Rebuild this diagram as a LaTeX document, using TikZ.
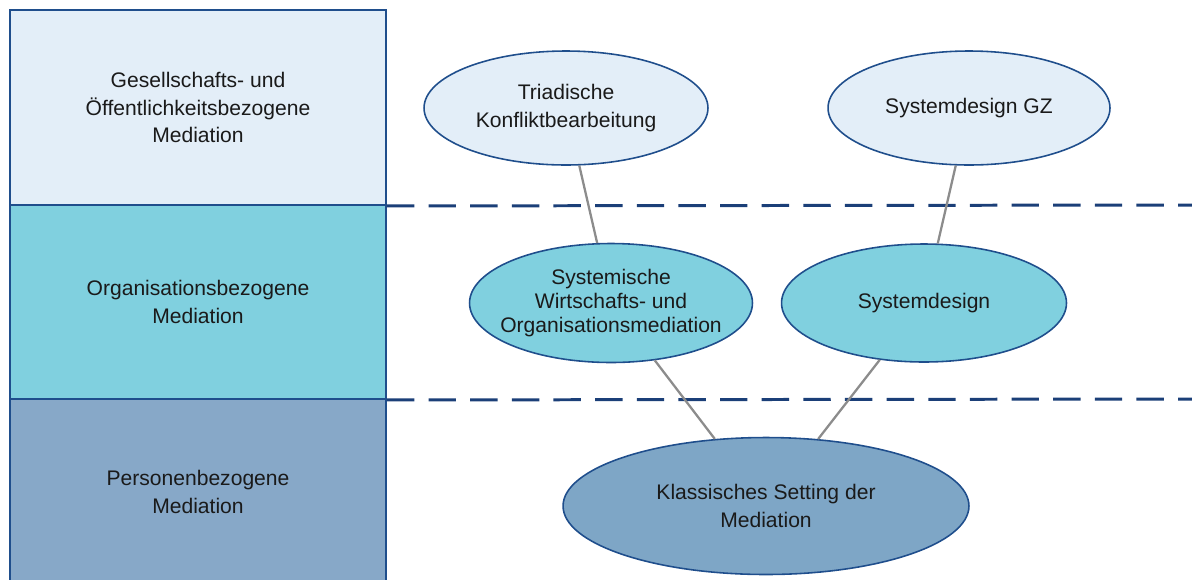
\documentclass[tikz,border=0pt]{standalone}
\usepackage{fontspec}
\setmainfont{Liberation Sans}
\usetikzlibrary{shapes.geometric}
\definecolor{lvlA}{HTML}{E3EEF8}
\definecolor{lvlB}{HTML}{80D0DF}
\definecolor{lvlC}{HTML}{87A8C8}
\definecolor{lvlCe}{HTML}{7EA6C6}
\definecolor{edgeblue}{HTML}{1F4E8C}
\definecolor{dashblue}{HTML}{1B3F78}
\definecolor{txt}{HTML}{1A1A1A}
\definecolor{conn}{HTML}{8C8C8C}
\tikzset{
  lvlbox/.style={draw=edgeblue, line width=1.1pt, minimum width=7.52cm, text=txt,
    align=center, font=\fontsize{12}{15.9}\selectfont, inner sep=0pt},
  ell/.style={ellipse, draw=edgeblue, line width=0.9pt, text=txt, align=center,
    inner xsep=-20pt, inner ysep=0pt, font=\fontsize{12}{15.9}\selectfont},
  dashline/.style={dashblue, line width=1.7pt, dash pattern=on 15.6pt off 8.1pt},
  connector/.style={conn, line width=1.3pt}
}
\begin{document}
\begin{tikzpicture}[x=0.02cm, y=-0.02cm]
\useasboundingbox (0,0) rectangle (1192,579);
\clip (0,0) rectangle (1192,579);
% level boxes
\node[lvlbox, fill=lvlA, minimum height=3.9cm] (top) at (198,107.5)
  {Gesellschafts- und\\Öffentlichkeitsbezogene\\Mediation};
\node[lvlbox, fill=lvlB, minimum height=3.88cm] (mid) at (198,302)
  {Organisationsbezogene\\Mediation};
\node[lvlbox, fill=lvlC, minimum height=3.72cm] (bot) at (198,492)
  {Personenbezogene\\Mediation};
% dashed separators
\coordinate (d1end) at (1192,205);
\coordinate (d2end) at (1192,399);
\draw[dashline] (top.south east) -- (d1end);
\draw[dashline] (mid.south east) -- (d2end);
% ellipses
\node[ell, fill=lvlA, minimum width=5.68cm, minimum height=2.28cm] (tri) at (566,108)
  {Triadische\\Konfliktbearbeitung};
\node[ell, fill=lvlA, minimum width=5.64cm, minimum height=2.28cm] (gz) at (969,108)
  {Systemdesign GZ};
\node[ell, fill=lvlB, minimum width=5.66cm, minimum height=2.38cm,
      font=\fontsize{12}{13.9}\selectfont] (sys) at (611,303)
  {Systemische\\Wirtschafts- und\\Organisationsmediation};
\node[ell, fill=lvlB, minimum width=5.7cm, minimum height=2.36cm] (sd) at (924,303)
  {Systemdesign};
\node[ell, fill=lvlCe, minimum width=8.12cm, minimum height=2.74cm] (kl) at (766,506)
  {Klassisches Setting der\\Mediation};
% connectors
\draw[connector] (tri) -- (sys);
\draw[connector] (gz) -- (sd);
\draw[connector] (sys) -- (kl);
\draw[connector] (sd) -- (kl);
\end{tikzpicture}
\end{document}
